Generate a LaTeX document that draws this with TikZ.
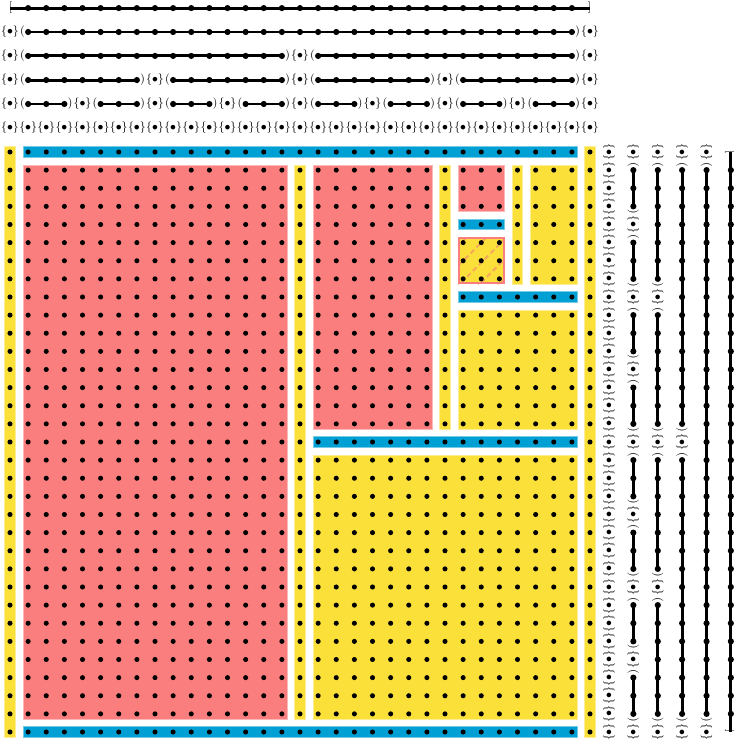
\documentclass[tikz,border=0pt]{standalone}
\usepackage{xcolor}
\usepackage{tikz}
\usetikzlibrary{calc}
\definecolor{cRed}{HTML}{FA7E7E}
\definecolor{cYel}{HTML}{FBE03A}
\definecolor{cBlu}{HTML}{00A0D4}
\definecolor{cHat}{HTML}{F6A45C}
\tikzset{
  tileedge/.style={line width=0.5pt},
  gdot/.style={fill=black},
  segline/.style={line width=2.3pt,draw=black,line cap=butt},
  lab/.style={inner sep=0pt,font=\small},
  hatchline/.style={draw=cHat,line width=1.4pt,dash pattern=on 4pt off 2.5pt},
}
\newcommand{\tile}[5]{% colour, first col, first row, last col, last row
  \filldraw[tileedge,fill=#1,draw=#1!55!white]
    (#2-0.29,#3-0.29) rectangle (#4+0.29,#5+0.29);}
\newcommand{\hpt}[2]{\node[lab] at (#2,#1) {$\{\bullet\}$};}
\newcommand{\vpt}[2]{\node[lab,rotate=-90] at (#1,#2) {$\{\bullet\}$};}
\newcommand{\hseg}[3]{%
  \draw[segline] (#2,#1) -- (#3,#1);
  \foreach \q in {#2,...,#3} \fill[gdot] (\q,#1) circle (0.085cm);
  \node[lab] at (#2-0.32,#1) {$($};
  \node[lab] at (#3+0.32,#1) {$)$};}
\newcommand{\vseg}[3]{%
  \draw[segline] (#1,#2) -- (#1,#3);
  \foreach \q in {#2,...,#3} \fill[gdot] (#1,\q) circle (0.085cm);
  \node[lab,rotate=-90] at (#1,#2-0.32) {$($};
  \node[lab,rotate=-90] at (#1,#3+0.32) {$)$};}

\begin{document}
\begin{tikzpicture}[x=0.5cm,y=-0.5cm]
  \useasboundingbox (-0.552,-8.386) rectangle (39.89,32.497);

  % tiles of the square
  \tile{cYel}{0}{0}{0}{32}
  \tile{cYel}{32}{0}{32}{32}
  \tile{cBlu}{1}{0}{31}{0}
  \tile{cBlu}{1}{32}{31}{32}
  \tile{cRed}{1}{1}{15}{31}
  \tile{cYel}{16}{1}{16}{31}
  \tile{cBlu}{17}{16}{31}{16}
  \tile{cYel}{17}{17}{31}{31}
  \tile{cRed}{17}{1}{23}{15}
  \tile{cYel}{24}{1}{24}{15}
  \tile{cBlu}{25}{8}{31}{8}
  \tile{cYel}{25}{9}{31}{15}
  \tile{cRed}{25}{1}{27}{3}
  \tile{cBlu}{25}{4}{27}{4}
  \tile{cYel}{28}{1}{28}{7}
  \tile{cYel}{29}{1}{31}{7}
  \begin{scope}
    \clip (24.71,4.71) rectangle (27.29,7.29);
    \fill[cYel] (24.71,4.71) rectangle (27.29,7.29);
    \foreach \t in {22.4,23.5,24.6,25.7,26.8}
      \draw[hatchline] (\t-1,8.5) -- ++(5,-5);
  \end{scope}
  \draw[cRed,line width=1.6pt] (24.76,4.76) rectangle (27.24,7.24);

  \foreach \i in {0,...,32}
    \foreach \j in {0,...,32}
      \fill[gdot] (\i,\j) circle (0.07cm);

  % finest level: single points
  \foreach \c in {0,...,32}{\hpt{-1.324}{\c}\vpt{33.05}{\c}}

  % coarser levels
  \foreach \s/\yy/\xx in {4/-2.648/34.39,8/-3.97/35.74,16/-5.30/37.08,32/-6.62/38.43}{
    \pgfmathtruncatemacro{\nb}{32/\s}
    \pgfmathtruncatemacro{\nm}{\nb-1}
    \foreach \m in {0,...,\nb}{
      \pgfmathtruncatemacro{\pp}{\m*\s}
      \hpt{\yy}{\pp}\vpt{\xx}{\pp}}
    \foreach \m in {0,...,\nm}{
      \pgfmathtruncatemacro{\lo}{\m*\s+1}
      \pgfmathtruncatemacro{\hi}{\m*\s+\s-1}
      \hseg{\yy}{\lo}{\hi}\vseg{\xx}{\lo}{\hi}}
  }

  % whole closed range
  \draw[segline] (0,-7.94) -- (32,-7.94);
  \draw[segline] (39.77,0) -- (39.77,32);
  \foreach \c in {1,...,31}{
    \fill[gdot] (\c,-7.94) circle (0.085cm);
    \fill[gdot] (39.77,\c) circle (0.085cm);}
  \node[lab,anchor=west] at (-0.07,-7.94) {$[$};
  \node[lab,anchor=east] at (32.07,-7.94) {$]$};
  \node[lab,rotate=-90,anchor=west] at (39.77,-0.07) {$[$};
  \node[lab,rotate=-90,anchor=east] at (39.77,32.07) {$]$};
\end{tikzpicture}
\end{document}
